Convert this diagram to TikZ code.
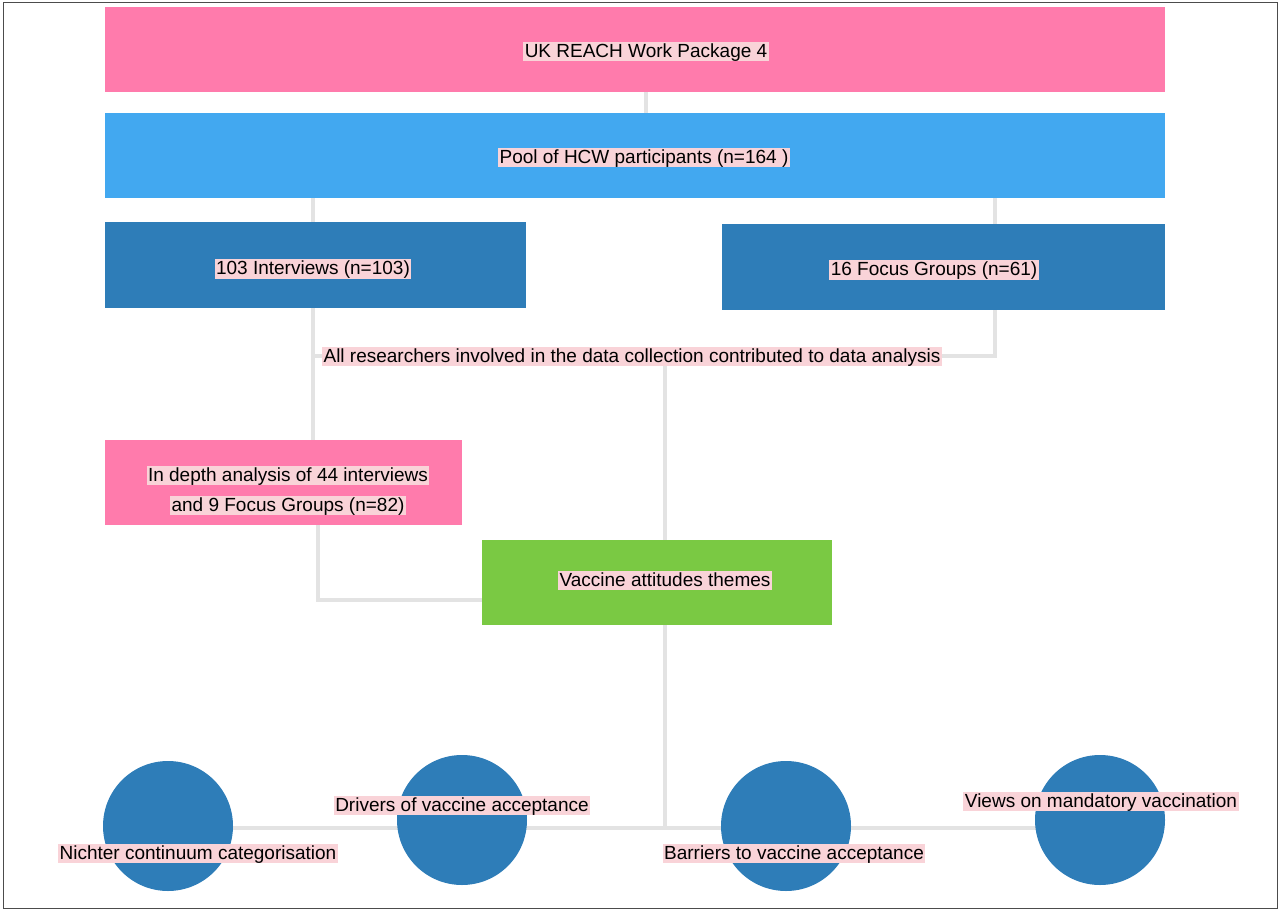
\documentclass[tikz,border=0pt]{standalone}
\usepackage{fontspec}
\setmainfont{Liberation Sans}
\definecolor{boxpink}{HTML}{FF7BAC}
\definecolor{boxblue}{HTML}{42A8F0}
\definecolor{boxdark}{HTML}{2E7DB8}
\definecolor{boxgreen}{HTML}{7AC943}
\definecolor{tagpink}{HTML}{F9D3D8}
\definecolor{linkgray}{HTML}{E3E3E3}
\begin{document}
\begin{tikzpicture}[x=1pt, y=-1pt, font={\fontsize{19}{23}\selectfont},
box/.style={draw=none, inner sep=0pt, anchor=north west},
tag/.style={fill=tagpink, inner sep=1.5pt, text depth=2pt, text height=14pt},
link/.style={draw=linkgray, line width=4pt},
disc/.style={circle, fill=boxdark, minimum size=130pt, inner sep=0pt}]

\useasboundingbox (0,0) rectangle (1280,912);
\draw[line width=1pt, black!70] (3,3) rectangle (1277,908);

% connectors first
\coordinate (c1) at (646,92);
\coordinate (c2) at (646,113);
\draw[link] (c1) -- (c2);
\draw[link] (313,198) -- (313,222);
\draw[link] (995,198) -- (995,224);
\draw[link] (313,308) -- (313,440);
\draw[link] (995,310) -- (995,356) -- (313,356);
\draw[link] (665,356) -- (665,540);
\draw[link] (318,525) -- (318,600) -- (482,600);
\draw[link] (665,625) -- (665,828);
\draw[link] (168,828) -- (1100,828);

% boxes
\fill[boxpink] (105,7) rectangle (1165,92);
\fill[boxblue] (105,113) rectangle (1165,198);
\fill[boxdark] (105,222) rectangle (526,308);
\fill[boxdark] (722,224) rectangle (1165,310);
\fill[boxpink] (105,440) rectangle (462,525);
\fill[boxgreen] (482,540) rectangle (832,625);

% circles
\node[disc] (d1) at (168,826) {};
\node[disc] (d2) at (462,820) {};
\node[disc] (d3) at (786,826) {};
\node[disc] (d4) at (1100,820) {};

% labels
\node[tag] (t1) at (646,52) {UK REACH Work Package 4};
\node[tag] (t2) at (644,158) {Pool of HCW participants (n=164 )};
\node[tag] (t3) at (313,269) {103 Interviews (n=103)};
\node[tag] (t4) at (934,270) {16 Focus Groups (n=61)};
\node[tag] (t5) at (632,356) {All researchers involved in the data collection contributed to data analysis};
\node[tag] (t6) at (288,475) {In depth analysis of 44 interviews};
\node[tag] (t7) at (288,505) {and 9 Focus Groups (n=82)};
\node[tag] (t8) at (665,580) {Vaccine attitudes themes};
\node[tag] (t9) at (198,853) {Nichter continuum categorisation};
\node[tag] (t10) at (462,805) {Drivers of vaccine acceptance};
\node[tag] (t11) at (794,853) {Barriers to vaccine acceptance};
\node[tag] (t12) at (1101,801) {Views on mandatory vaccination};
\end{tikzpicture}
\end{document}
